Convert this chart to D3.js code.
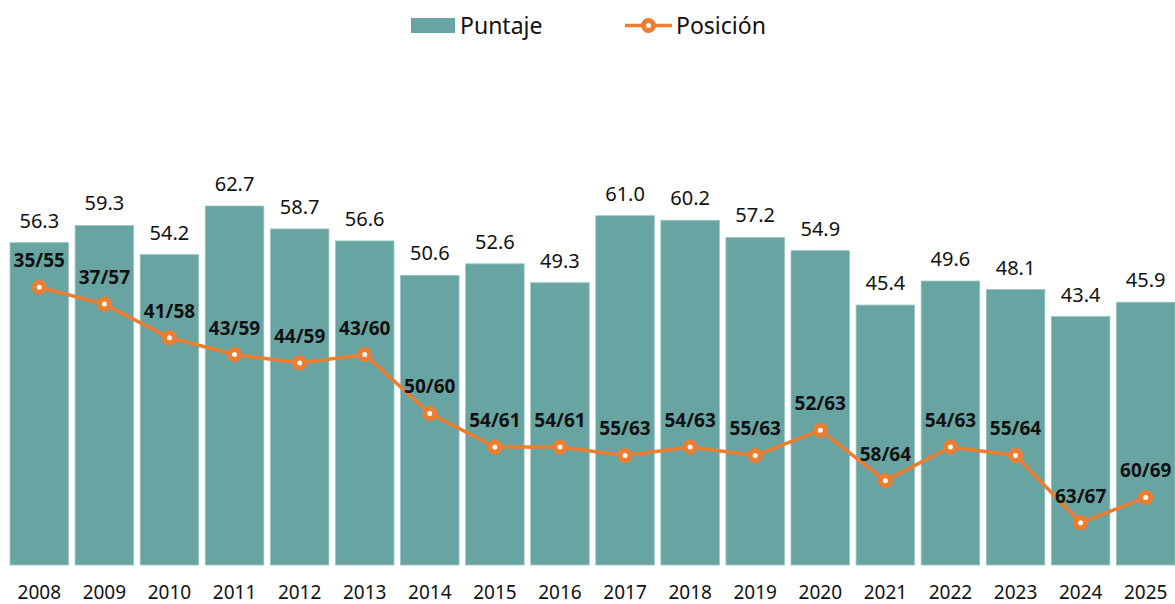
<!DOCTYPE html>
<html>
<head>
<meta charset="utf-8">
<script src="https://cdn.jsdelivr.net/npm/d3@7"></script>
<style>
  body { margin: 0; background: #fff; }
  svg { font-family: "Noto Sans", "Segoe UI", sans-serif; }
</style>
</head>
<body>
<svg class="js-chart" width="1175" height="604"></svg>
<script>
// chart data
const years = ['2008','2009','2010','2011','2012','2013','2014','2015','2016','2017','2018','2019','2020','2021','2022','2023','2024','2025'];
const puntaje = [56.3, 59.3, 54.2, 62.7, 58.7, 56.6, 50.6, 52.6, 49.3, 61.0, 60.2, 57.2, 54.9, 45.4, 49.6, 48.1, 43.4, 45.9];
const posicion = [35, 37, 41, 43, 44, 43, 50, 54, 54, 55, 54, 55, 52, 58, 54, 55, 63, 60];
const totales = [55, 57, 58, 59, 59, 60, 60, 61, 61, 63, 63, 63, 63, 64, 63, 64, 67, 69];

const barColor = '#68a5a2';
const lineColor = '#ed7d31';

const svg = d3.select('.js-chart');

const x = d3.scaleBand()
    .domain(years)
    .range([10, 1175])
    .paddingInner(0.1)
    .paddingOuter(0);

// bars: 0 at baseline
const y = d3.scaleLinear()
    .domain([0, 70])
    .range([565, 164.2]);

// rank line sits on its own scale
const yPos = d3.scaleLinear()
    .domain([35, 63])
    .range([287.3, 522.7]);

const data = years.map((yr, i) => ({ yr, v: puntaje[i], p: posicion[i], t: totales[i] }));

// bars
svg.append('g').selectAll('rect')
    .data(data)
    .enter().append('rect')
    .attr('x', d => x(d.yr))
    .attr('y', d => y(d.v))
    .attr('width', x.bandwidth())
    .attr('height', d => y(0) - y(d.v))
    .attr('fill', barColor)
    .attr('stroke', '#9cc6c3')
    .attr('stroke-width', 0.8);

// bar value labels
svg.append('g').selectAll('text')
    .data(data)
    .enter().append('text')
    .attr('x', d => x(d.yr) + x.bandwidth() / 2)
    .attr('y', d => y(d.v) - 15)
    .attr('text-anchor', 'middle')
    .style('font-size', '20px')
    .attr('fill', '#111')
    .text(d => d.v.toFixed(1));

// x axis (labels only)
const xAxis = svg.append('g')
    .attr('transform', 'translate(0,565)')
    .call(d3.axisBottom(x).tickSize(0).tickPadding(21));
xAxis.select('.domain').remove();
xAxis.selectAll('text')
    .style('font-size', '19px')
    .style('font-family', '"Noto Sans", sans-serif')
    .attr('fill', '#111');

// rank line
const line = d3.line()
    .x(d => x(d.yr) + x.bandwidth() / 2)
    .y(d => yPos(d.p));

svg.append('path')
    .attr('d', line(data))
    .attr('fill', 'none')
    .attr('stroke', lineColor)
    .attr('stroke-width', 3.5);

svg.append('g').selectAll('circle')
    .data(data)
    .enter().append('circle')
    .attr('cx', d => x(d.yr) + x.bandwidth() / 2)
    .attr('cy', d => yPos(d.p))
    .attr('r', 5)
    .attr('fill', '#fff')
    .attr('stroke', lineColor)
    .attr('stroke-width', 5);

// rank labels
svg.append('g').selectAll('text')
    .data(data)
    .enter().append('text')
    .attr('x', d => x(d.yr) + x.bandwidth() / 2)
    .attr('y', d => yPos(d.p) - 20)
    .attr('text-anchor', 'middle')
    .style('font-size', '19px')
    .style('font-weight', 'bold')
    .attr('fill', '#111')
    .text(d => d.p + '/' + d.t);

// legend
const legend = svg.append('g');
legend.append('rect')
    .attr('x', 411).attr('y', 18)
    .attr('width', 44).attr('height', 15)
    .attr('fill', barColor);
legend.append('text')
    .attr('x', 460).attr('y', 34)
    .style('font-size', '23px')
    .attr('fill', '#111')
    .text('Puntaje');
legend.append('line')
    .attr('x1', 625).attr('x2', 672)
    .attr('y1', 25.5).attr('y2', 25.5)
    .attr('stroke', lineColor)
    .attr('stroke-width', 3.5);
legend.append('circle')
    .attr('cx', 648.5).attr('cy', 25.5)
    .attr('r', 5)
    .attr('fill', '#fff')
    .attr('stroke', lineColor)
    .attr('stroke-width', 5);
legend.append('text')
    .attr('x', 676).attr('y', 34)
    .style('font-size', '23px')
    .attr('fill', '#111')
    .text('Posición');
</script>
</body>
</html>
